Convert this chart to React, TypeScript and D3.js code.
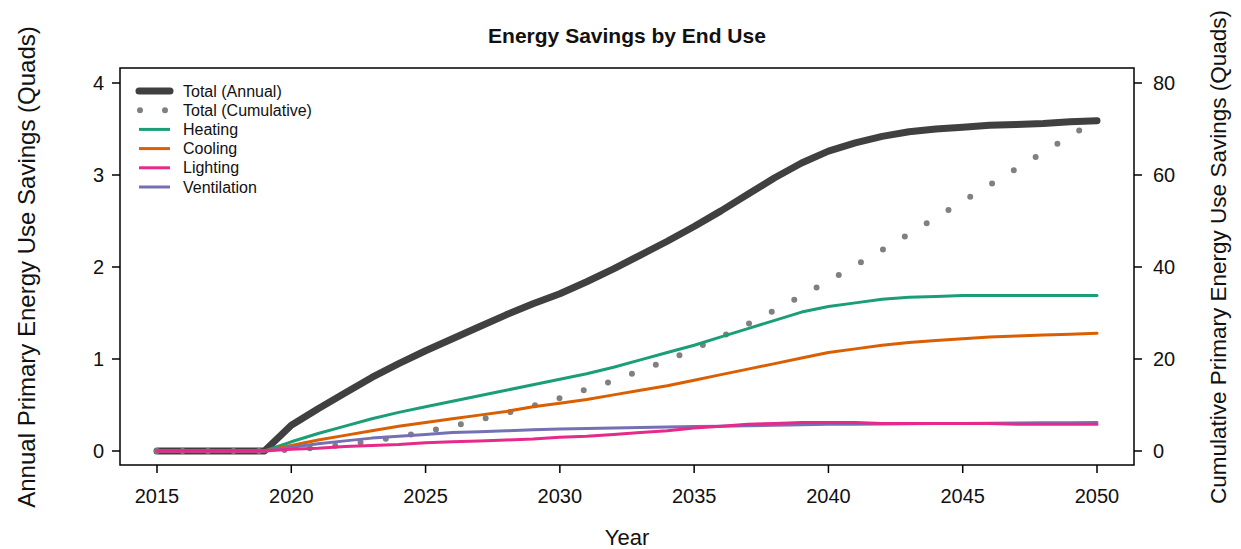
import React from 'react';
import * as d3 from 'd3';

const years = d3.range(2015, 2051);

const totalAnnual = [
  0, 0, 0, 0, 0, 0.28, 0.46, 0.63, 0.8, 0.95, 1.09, 1.22, 1.35, 1.48, 1.6, 1.71, 1.84, 1.98,
  2.13, 2.28, 2.44, 2.61, 2.79, 2.97, 3.13, 3.26, 3.35, 3.42, 3.47, 3.5, 3.52, 3.54, 3.55,
  3.56, 3.58, 3.59,
];
const totalCumulative = [
  0, 0, 0, 0, 0, 0.3, 0.7, 1.4, 2.2, 3.1, 4.2, 5.4, 6.8, 8.2, 9.8, 11.5, 13.4, 15.3, 17.5,
  19.7, 22.2, 24.8, 27.6, 30.6, 33.7, 37.0, 40.3, 43.7, 47.2, 50.7, 54.3, 57.8, 61.4, 64.9,
  68.5, 72.0,
];
const heating = [
  0, 0, 0, 0, 0, 0.1, 0.19, 0.27, 0.35, 0.42, 0.48, 0.54, 0.6, 0.66, 0.72, 0.78, 0.84, 0.91,
  0.99, 1.07, 1.15, 1.24, 1.33, 1.42, 1.51, 1.57, 1.61, 1.65, 1.67, 1.68, 1.69, 1.69, 1.69,
  1.69, 1.69, 1.69,
];
const cooling = [
  0, 0, 0, 0, 0, 0.06, 0.12, 0.17, 0.22, 0.27, 0.31, 0.35, 0.39, 0.43, 0.48, 0.52, 0.56, 0.61,
  0.66, 0.71, 0.77, 0.83, 0.89, 0.95, 1.01, 1.07, 1.11, 1.15, 1.18, 1.2, 1.22, 1.24, 1.25,
  1.26, 1.27, 1.28,
];
const lighting = [
  0, 0, 0, 0, 0, 0.02, 0.03, 0.05, 0.06, 0.07, 0.09, 0.1, 0.11, 0.12, 0.13, 0.15, 0.16, 0.18,
  0.2, 0.22, 0.25, 0.27, 0.29, 0.3, 0.31, 0.31, 0.31, 0.3, 0.3, 0.3, 0.3, 0.3, 0.29, 0.29,
  0.29, 0.29,
];
const ventilation = [
  0, 0, 0, 0, 0, 0.04, 0.08, 0.11, 0.14, 0.16, 0.18, 0.2, 0.21, 0.22, 0.23, 0.24, 0.245, 0.25,
  0.255, 0.26, 0.265, 0.27, 0.275, 0.28, 0.285, 0.29, 0.292, 0.294, 0.296, 0.298, 0.3, 0.302,
  0.304, 0.306, 0.308, 0.31,
];

const xTicks = [2015, 2020, 2025, 2030, 2035, 2040, 2045, 2050];
const yTicks = [0, 1, 2, 3, 4];
const yRightTicks = [0, 20, 40, 60, 80];

const legendItems = [
  { label: 'Total (Annual)', color: '#404040', width: 7, dotted: false },
  { label: 'Total (Cumulative)', color: '#808080', width: 6, dotted: true },
  { label: 'Heating', color: '#1B9E77', width: 3, dotted: false },
  { label: 'Cooling', color: '#D95F02', width: 3, dotted: false },
  { label: 'Lighting', color: '#E7298A', width: 3, dotted: false },
  { label: 'Ventilation', color: '#7570B3', width: 3, dotted: false },
];

const W = 1241;
const H = 549;
const box = { left: 120, right: 1134, top: 68, bottom: 465 };
const font = '"Liberation Sans", Arial, Helvetica, sans-serif';

const App: React.FC = () => {
  const x = d3.scaleLinear().domain([2015, 2050]).range([157, 1097]);
  const y = d3.scaleLinear().domain([0, 4]).range([451, 83]);
  const yR = d3.scaleLinear().domain([0, 80]).range([451, 83]);

  const lineL = d3.line<number>().x((_, i) => x(years[i])).y(d => y(d));
  const lineR = d3.line<number>().x((_, i) => x(years[i])).y(d => yR(d));

  const series = [
    { values: heating, color: '#1B9E77' },
    { values: cooling, color: '#D95F02' },
    { values: ventilation, color: '#7570B3' },
    { values: lighting, color: '#E7298A' },
  ];

  return (
    <svg
      width={W}
      height={H}
      style={{ position: 'absolute', left: 0, top: 0, background: '#fff' }}
      fontFamily={font}
    >
      <rect x={0} y={0} width={W} height={H} fill="#fff" />

      {/* lines */}
      <path d={lineL(totalAnnual) ?? ''} fill="none" stroke="#404040" strokeWidth={7} strokeLinejoin="round" strokeLinecap="round" />
      <path
        d={lineR(totalCumulative) ?? ''}
        fill="none"
        stroke="#808080"
        strokeWidth={6}
        strokeLinecap="round"
        strokeDasharray="0 25.5"
      />
      {series.map(s => (
        <path key={s.color} d={lineL(s.values) ?? ''} fill="none" stroke={s.color} strokeWidth={3} strokeLinejoin="round" strokeLinecap="round" />
      ))}

      {/* box */}
      <rect
        x={box.left}
        y={box.top}
        width={box.right - box.left}
        height={box.bottom - box.top}
        fill="none"
        stroke="#000"
        strokeWidth={1.5}
      />

      {/* bottom axis */}
      {xTicks.map(t => (
        <g key={t}>
          <line x1={x(t)} x2={x(t)} y1={box.bottom} y2={box.bottom + 8} stroke="#000" strokeWidth={1.5} />
          <text x={x(t)} y={503} textAnchor="middle" fontSize={20} fill="#111">
            {t}
          </text>
        </g>
      ))}

      {/* left axis */}
      {yTicks.map(t => (
        <g key={t}>
          <line x1={box.left} x2={box.left - 8} y1={y(t)} y2={y(t)} stroke="#000" strokeWidth={1.5} />
          <text x={104} y={y(t)} dy="0.35em" textAnchor="end" fontSize={20} fill="#111">
            {t}
          </text>
        </g>
      ))}

      {/* right axis */}
      {yRightTicks.map(t => (
        <g key={t}>
          <line x1={box.right} x2={box.right + 8} y1={yR(t)} y2={yR(t)} stroke="#000" strokeWidth={1.5} />
          <text x={1153} y={yR(t)} dy="0.35em" textAnchor="start" fontSize={20} fill="#111">
            {t}
          </text>
        </g>
      ))}

      {/* titles */}
      <text x={627} y={43} textAnchor="middle" fontSize={21} fontWeight="bold" fill="#111">
        Energy Savings by End Use
      </text>
      <text x={627} y={545} textAnchor="middle" fontSize={22} fill="#111">
        Year
      </text>
      <text
        transform={`translate(35, 267) rotate(-90)`}
        textAnchor="middle"
        fontSize={24}
        fill="#111"
      >
        Annual Primary Energy Use Savings (Quads)
      </text>
      <text
        transform={`translate(1226, 257) rotate(-90)`}
        textAnchor="middle"
        fontSize={22.5}
        fill="#111"
      >
        Cumulative Primary Energy Use Savings (Quads)
      </text>

      {/* legend */}
      {legendItems.map((item, i) => {
        const ly = 91 + i * 19.2;
        return (
          <g key={item.label}>
            {item.dotted ? (
              <line
                x1={140}
                x2={167}
                y1={ly}
                y2={ly}
                stroke={item.color}
                strokeWidth={item.width}
                strokeLinecap="round"
                strokeDasharray="0 25"
              />
            ) : (
              <line
                x1={139}
                x2={170}
                y1={ly}
                y2={ly}
                stroke={item.color}
                strokeWidth={item.width}
                strokeLinecap={item.width > 5 ? 'round' : 'butt'}
              />
            )}
            <text x={183} y={ly} dy="0.35em" fontSize={16} fill="#111">
              {item.label}
            </text>
          </g>
        );
      })}
    </svg>
  );
};

export default App;
